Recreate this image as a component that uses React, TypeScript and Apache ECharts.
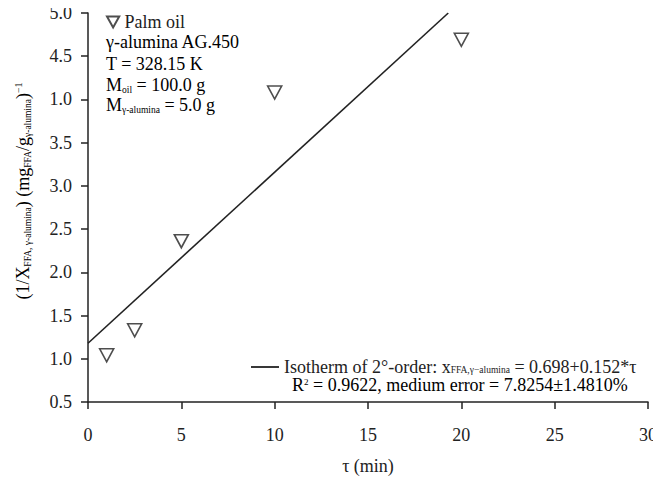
import React, { useEffect, useRef } from "react";
import * as echarts from "echarts";

const tau = [1, 2.5, 5, 10, 20];
const invX = [1.04, 1.33, 2.36, 4.08, 4.69];
const fitTau = [0, 19.3];
const fitInvX = [1.18, 5.0];
const yTickLabels = ["0.5", "1.0", "1.5", "2.0", "2.5", "3.0", "3.5", "1.0", "4.5", "5.0"];
const xTickLabels = ["0", "5", "10", "15", "20", "25", "30"];

const FONT = "Liberation Serif";
const TRI = "path://M0,0 L10,0 L5,9 Z";
const INK = "#222";

const rich = {
  p: { fontFamily: FONT, fontSize: 18, lineHeight: 20, color: INK },
  s: { fontFamily: FONT, fontSize: 9.5, lineHeight: 11, verticalAlign: "bottom", color: INK },
  sup: { fontFamily: FONT, fontSize: 10, lineHeight: 10, verticalAlign: "top", color: INK },
};

const richTight = {
  p: { fontFamily: FONT, fontSize: 18, lineHeight: 15, color: INK },
  s: { fontFamily: FONT, fontSize: 9.5, lineHeight: 5, verticalAlign: "bottom", color: INK },
  sup: { fontFamily: FONT, fontSize: 9, lineHeight: 9, verticalAlign: "top", color: INK },
};

export default function App() {
  const ref = useRef<HTMLDivElement>(null);
  useEffect(() => {
    if (!ref.current) return;
    const chart = echarts.init(ref.current, null, { renderer: "svg" });
    chart.setOption({
      animation: false,
      backgroundColor: "#fff",
      grid: { left: 88, right: 13, top: 13, bottom: 74 },
      xAxis: {
        type: "value",
        min: 0,
        max: 30,
        interval: 5,
        name: "τ (min)",
        nameLocation: "middle",
        nameGap: 55,
        nameTextStyle: { fontFamily: FONT, fontSize: 18, color: INK },
        axisLine: { lineStyle: { color: INK, width: 1.5 } },
        axisTick: { inside: false, length: 7, lineStyle: { color: INK, width: 1.5 } },
        axisLabel: {
          margin: 24,
          fontFamily: FONT,
          fontSize: 18,
          color: INK,
          formatter: (v: number) => xTickLabels[Math.round(v / 5)] ?? String(v),
        },
        splitLine: { show: false },
      },
      yAxis: {
        type: "value",
        min: 0.5,
        max: 5.0,
        interval: 0.5,
        axisLine: { show: true, lineStyle: { color: INK, width: 1.5 } },
        axisTick: { show: true, inside: false, length: 7, lineStyle: { color: INK, width: 1.5 } },
        axisLabel: {
          margin: 16,
          fontFamily: FONT,
          fontSize: 18,
          color: INK,
          formatter: (v: number) => yTickLabels[Math.round((v - 0.5) / 0.5)] ?? String(v),
        },
        splitLine: { show: false },
      },
      legend: [
        {
          data: [{ name: "Palm oil", icon: TRI }],
          left: 106,
          top: 13,
          padding: 0,
          itemWidth: 13,
          itemHeight: 11,
          textStyle: { fontFamily: FONT, fontSize: 18, color: INK },
        },
        {
          data: [{ name: "fit", icon: "rect", itemStyle: { color: INK, borderWidth: 0 } }],
          left: 251,
          top: 358,
          padding: 0,
          itemWidth: 28,
          itemHeight: 1.8,
          formatter: () =>
            "{p|Isotherm of 2°-order: x}{s|FFA,γ−alumina}{p| = 0.698+0.152*τ}",
          textStyle: { rich: richTight },
        },
      ],
      graphic: [
        {
          type: "text",
          left: 106,
          top: 33,
          style: { text: "{p|γ-alumina AG.450}", rich },
        },
        {
          type: "text",
          left: 106,
          top: 55,
          style: { text: "{p|T = 328.15 K}", rich },
        },
        {
          type: "text",
          left: 106,
          top: 76,
          style: { text: "{p|M}{s|oil}{p| = 100.0 g}", rich },
        },
        {
          type: "text",
          left: 106,
          top: 96,
          style: { text: "{p|M}{s|γ-alumina}{p| = 5.0 g}", rich },
        },
        {
          type: "text",
          left: 292,
          top: 376,
          style: { text: "{p|R}{sup|2}{p| = 0.9622, medium error = 7.8254±1.4810%}", rich: richTight },
        },
        {
          type: "text",
          x: 23,
          y: 191,
          rotation: Math.PI / 2,
          style: {
            text: "{p|(1/X}{s|FFA, γ-alumina}{p|) (mg}{s|FFA}{p|/g}{s|γ-alumina}{p|)}{sup|−1}",
            rich,
            align: "center",
            verticalAlign: "middle",
          },
        },
      ],
      series: [
        {
          name: "Palm oil",
          type: "scatter",
          symbol: TRI,
          symbolSize: [14, 13],
          itemStyle: { color: "#fff", borderColor: INK, borderWidth: 1.6 },
          data: tau.map((t, i) => [t, invX[i]]),
          z: 3,
        },
        {
          name: "fit",
          type: "line",
          symbol: "none",
          itemStyle: { color: INK },
          lineStyle: { color: INK, width: 1.6 },
          data: fitTau.map((t, i) => [t, fitInvX[i]]),
        },
      ],
    });
    return () => chart.dispose();
  }, []);
  return <div ref={ref} style={{ width: 661, height: 480, marginLeft: -8, marginTop: -8 }} />;
}
